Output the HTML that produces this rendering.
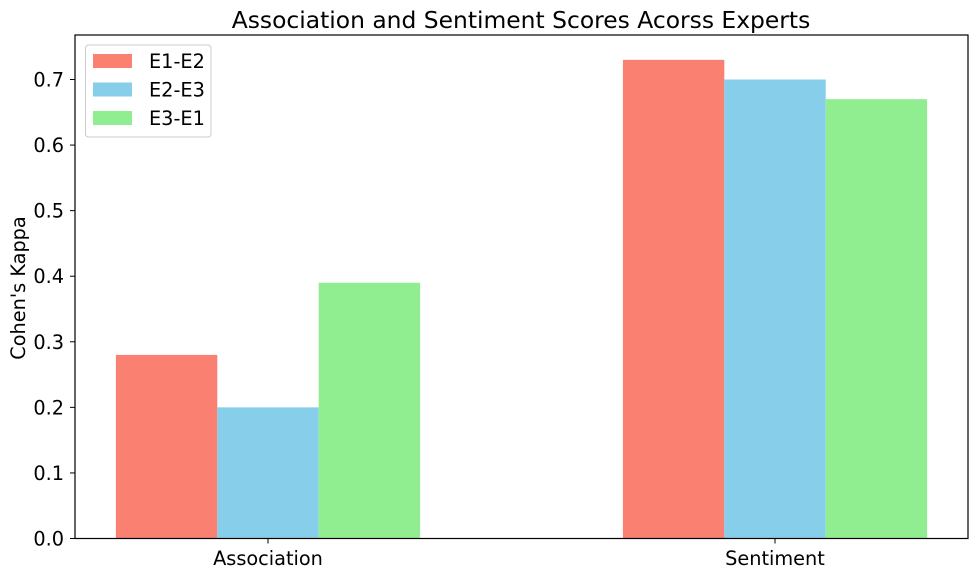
<!DOCTYPE html>
<html><head><meta charset="utf-8">
<style>
body{margin:0;background:#fff;}
svg{display:block;font-family:"DejaVu Sans","Liberation Sans",sans-serif;}
</style></head>
<body>
<svg id="chart" width="978" height="577" viewBox="0 0 978 577">
<text x="521" y="28" text-anchor="middle" font-size="23.4" fill="#000">Association and Sentiment Scores Acorss Experts</text>
<text transform="translate(25,288) rotate(-90)" text-anchor="middle" font-size="19.3" fill="#000">Cohen's Kappa</text>
<g id="bars"></g>
<g id="yticks"></g>
<g id="xticks"></g>
<rect x="75" y="35" width="893" height="503.5" fill="none" stroke="#000" stroke-width="1.2"/>
<g id="legend"></g>
</svg>
<script>
const categories = ["Association", "Sentiment"];
const seriesNames = ["E1-E2", "E2-E3", "E3-E1"];
const e1e2 = [0.28, 0.73];
const e2e3 = [0.20, 0.70];
const e3e1 = [0.39, 0.67];
const yTicks = [0.0, 0.1, 0.2, 0.3, 0.4, 0.5, 0.6, 0.7];
const colors = ["#fa8072", "#87ceeb", "#90ee90"];
const series = [e1e2, e2e3, e3e1];

const NS = "http://www.w3.org/2000/svg";
function yScale(v){ return 538.5 - v * 655.7; }
function xScale(u){ return 268 + u * 507; }
const barW = 0.2;

const gb = document.getElementById('bars');
series.forEach((s, si) => {
  s.forEach((v, ci) => {
    const r = document.createElementNS(NS, 'rect');
    const x0 = xScale(ci + (si - 1) * barW - barW / 2);
    const x1 = xScale(ci + (si - 1) * barW + barW / 2);
    r.setAttribute('x', x0);
    r.setAttribute('width', x1 - x0);
    r.setAttribute('y', yScale(v));
    r.setAttribute('height', yScale(0) - yScale(v));
    r.setAttribute('fill', colors[si]);
    
    
    gb.appendChild(r);
  });
});

const gy = document.getElementById('yticks');
yTicks.forEach(t => {
  const y = yScale(t);
  const l = document.createElementNS(NS, 'line');
  l.setAttribute('x1', 70); l.setAttribute('x2', 75);
  l.setAttribute('y1', y); l.setAttribute('y2', y);
  l.setAttribute('stroke', '#000');
  
  
  gy.appendChild(l);
  const tx = document.createElementNS(NS, 'text');
  tx.setAttribute('x', 64); tx.setAttribute('y', y + 7);
  tx.setAttribute('text-anchor', 'end');
  tx.setAttribute('font-size', '19.3');
  tx.textContent = t.toFixed(1);
  
  
  gy.appendChild(tx);
});

const gx = document.getElementById('xticks');
categories.forEach((c, i) => {
  const x = xScale(i);
  const l = document.createElementNS(NS, 'line');
  l.setAttribute('x1', x); l.setAttribute('x2', x);
  l.setAttribute('y1', 538.5); l.setAttribute('y2', 543.5);
  l.setAttribute('stroke', '#000');
  
  
  gx.appendChild(l);
  const tx = document.createElementNS(NS, 'text');
  tx.setAttribute('x', x); tx.setAttribute('y', 565);
  tx.setAttribute('text-anchor', 'middle');
  tx.setAttribute('font-size', '19.3');
  tx.textContent = c;
  
  
  gx.appendChild(tx);
});

const gl = document.getElementById('legend');
const box = document.createElementNS(NS, 'rect');
box.setAttribute('x', 85.5); box.setAttribute('y', 45);
box.setAttribute('width', 125.5); box.setAttribute('height', 92);
box.setAttribute('rx', 3);
box.setAttribute('fill', '#fff'); box.setAttribute('stroke', '#ccc');


gl.appendChild(box);
seriesNames.forEach((n, i) => {
  const y = 61 + i * 28.5;
  const p = document.createElementNS(NS, 'rect');
  p.setAttribute('x', 93); p.setAttribute('y', y - 7);
  p.setAttribute('width', 39); p.setAttribute('height', 14);
  p.setAttribute('fill', colors[i]);
  
  
  gl.appendChild(p);
  const t = document.createElementNS(NS, 'text');
  t.setAttribute('x', 149); t.setAttribute('y', y + 7);
  t.setAttribute('font-size', '19.3');
  t.textContent = n;
  
  
  gl.appendChild(t);
});
</script>
</body></html>
